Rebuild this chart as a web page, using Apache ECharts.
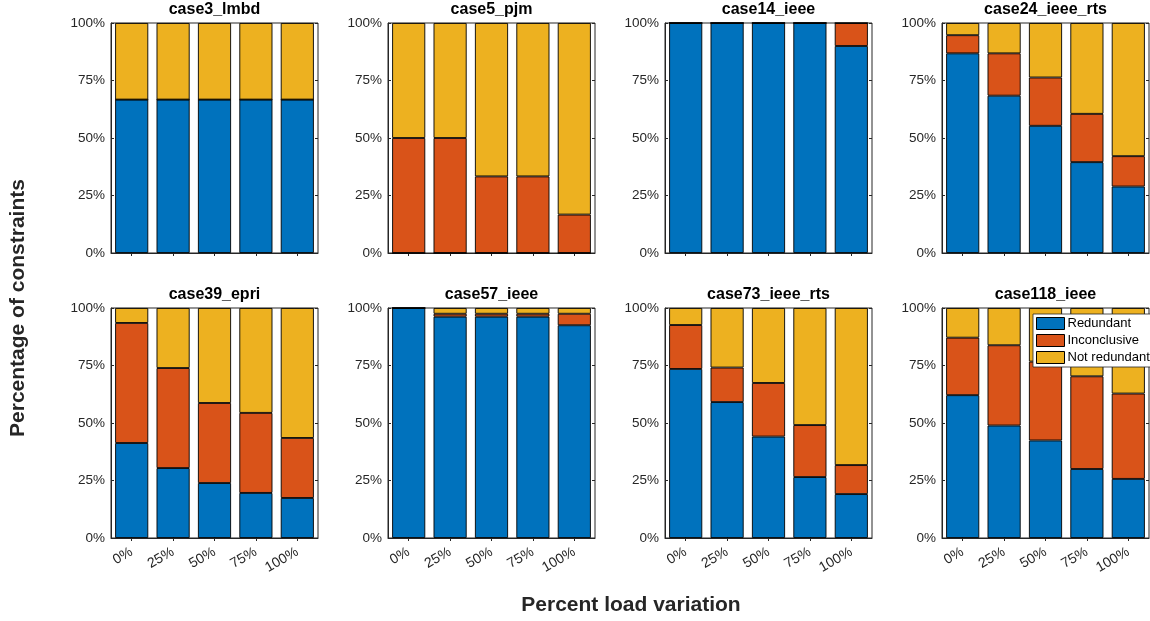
<!DOCTYPE html>
<html>
<head>
<meta charset="utf-8">
<script src="https://cdn.jsdelivr.net/npm/echarts@6/dist/echarts.min.js"></script>
<style>
html,body{margin:0;padding:0;background:#fff;}
#chart{width:1150px;height:621px;}
</style>
</head>
<body>
<div id="chart"></div>
<script>
// ---- data ----
const categories = ['0%', '25%', '50%', '75%', '100%'];
const caseNames = ['case3_lmbd', 'case5_pjm', 'case14_ieee', 'case24_ieee_rts',
                   'case39_epri', 'case57_ieee', 'case73_ieee_rts', 'case118_ieee'];
const seriesNames = ['Redundant', 'Inconclusive', 'Not redundant'];

const redundant = [
  [66.7, 66.7, 66.7, 66.7, 66.7],
  [0, 0, 0, 0, 0],
  [100, 100, 100, 100, 90],
  [86.8, 68.4, 55.3, 39.5, 28.9],
  [41.3, 30.4, 23.9, 19.6, 17.4],
  [100, 96.25, 96.25, 96.25, 92.5],
  [73.5, 59.1, 44.1, 26.5, 19.1],
  [62.1, 48.9, 42.4, 30.0, 25.7]
];
const inconclusive = [
  [0, 0, 0, 0, 0],
  [50, 50, 33.3, 33.3, 16.7],
  [0, 0, 0, 0, 10],
  [7.9, 18.4, 21.0, 21.0, 13.2],
  [52.2, 43.5, 34.8, 34.8, 26.1],
  [0, 1.25, 1.25, 1.25, 5],
  [19.1, 15.0, 23.3, 22.6, 12.6],
  [25.0, 34.9, 34.3, 40.3, 37.1]
];
const notRedundant = [
  [33.3, 33.3, 33.3, 33.3, 33.3],
  [50, 50, 66.7, 66.7, 83.3],
  [0, 0, 0, 0, 0],
  [5.3, 13.2, 23.7, 39.5, 57.9],
  [6.5, 26.1, 41.3, 45.6, 56.5],
  [0, 2.5, 2.5, 2.5, 2.5],
  [7.4, 25.9, 32.6, 50.9, 68.3],
  [12.9, 16.2, 23.3, 29.7, 37.2]
];

// ---- layout / style ----
const colors = ['#0072BD', '#D95319', '#EDB120'];
const lefts = [111, 388, 665, 942];
const tops = [23, 308];
const W = 207, H = 230;
const axisColor = '#262626';
const font = 'Liberation Sans, Arial, Helvetica, sans-serif';

const grids = [], xAxes = [], yAxes = [], series = [], titles = [];
const values = [redundant, inconclusive, notRedundant];

for (let i = 0; i < 8; i++) {
  const r = Math.floor(i / 4), c = i % 4;
  grids.push({left: lefts[c], top: tops[r], width: W, height: H,
              show: true, borderColor: axisColor, borderWidth: 1, backgroundColor: '#fff'});
  titles.push({text: caseNames[i], left: lefts[c] + W / 2, top: tops[r] - 21,
               textAlign: 'center', padding: 0,
               textStyle: {fontFamily: font, fontSize: 16, fontWeight: 'bold', color: '#000'}});
  xAxes.push({type: 'category', gridIndex: i, data: categories, position: 'bottom',
              boundaryGap: true,
              axisLine: {show: true, lineStyle: {color: axisColor, width: 1}},
              axisTick: {show: true, inside: true, alignWithLabel: true, length: 3,
                         lineStyle: {color: axisColor}},
              axisLabel: {show: r === 1, rotate: 30, margin: 13, fontFamily: font,
                          fontSize: 14, color: axisColor},
              splitLine: {show: false}});
  xAxes.push({type: 'category', gridIndex: i, data: categories, position: 'top',
              boundaryGap: true,
              axisLine: {show: false},
              axisTick: {show: true, inside: true, alignWithLabel: true, length: 3,
                         lineStyle: {color: axisColor}},
              axisLabel: {show: false}, splitLine: {show: false}});
  yAxes.push({type: 'value', gridIndex: i, min: 0, max: 100, interval: 25, position: 'left',
              axisLine: {show: true, lineStyle: {color: axisColor, width: 1}},
              axisTick: {show: true, inside: true, length: 3, lineStyle: {color: axisColor}},
              axisLabel: {show: true, margin: 6, fontFamily: font, fontSize: 13.5,
                          color: axisColor, formatter: v => v + '%'},
              splitLine: {show: false}});
  yAxes.push({type: 'value', gridIndex: i, min: 0, max: 100, interval: 25, position: 'right',
              axisLine: {show: false},
              axisTick: {show: true, inside: true, length: 3, lineStyle: {color: axisColor}},
              axisLabel: {show: false}, splitLine: {show: false}});
  for (let s = 0; s < 3; s++) {
    series.push({type: 'bar', name: seriesNames[s], stack: 'st' + i,
                 xAxisIndex: 2 * i, yAxisIndex: 2 * i,
                 data: values[s][i], barCategoryGap: '20%',
                 itemStyle: {color: colors[s], borderColor: '#000', borderWidth: 0.9},
                 emphasis: {disabled: true}, animation: false});
  }
}

const chart = echarts.init(document.getElementById('chart'), null, {renderer: 'canvas'});
chart.setOption({
  backgroundColor: '#fff',
  animation: false,
  title: titles,
  grid: grids,
  xAxis: xAxes,
  yAxis: yAxes,
  series: series,
  legend: {
    data: seriesNames.map(n => ({name: n, icon: 'rect'})),
    orient: 'vertical', left: 1033, top: 314,
    itemWidth: 28, itemHeight: 12, itemGap: 4,
    padding: [3, 3, 3, 3], backgroundColor: '#fff',
    borderColor: axisColor, borderWidth: 0.8, borderRadius: 0,
    selectedMode: false,
    textStyle: {fontFamily: font, fontSize: 13, color: '#000', padding: [0, 0, 0, -2]},
    itemStyle: {borderColor: '#000', borderWidth: 1}
  },
  graphic: [
    {type: 'text', x: 18, y: 308, rotation: Math.PI / 2,
     style: {text: 'Percentage of constraints', font: 'bold 21px ' + font,
             fill: axisColor, textAlign: 'center', textVerticalAlign: 'middle'}},
    {type: 'text', x: 631, y: 605,
     style: {text: 'Percent load variation', font: 'bold 21px ' + font,
             fill: axisColor, textAlign: 'center', textVerticalAlign: 'middle'}}
  ]
});
</script>
</body>
</html>
